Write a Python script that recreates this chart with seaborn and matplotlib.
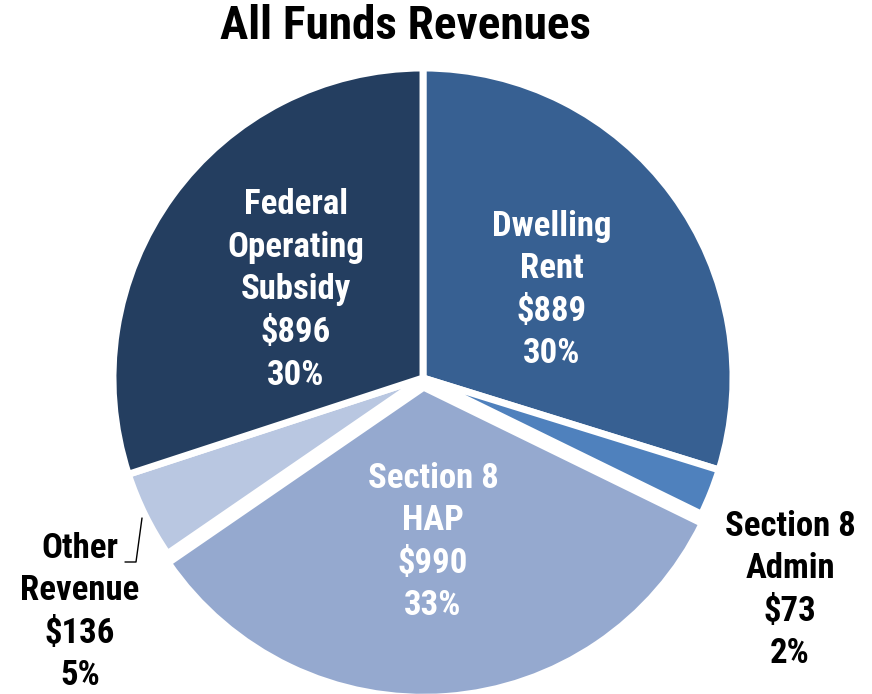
import matplotlib
matplotlib.use("Agg")
import matplotlib.pyplot as plt
import seaborn as sns

# Revenue data ($ in millions)
categories = ["Dwelling\nRent", "Section 8\nAdmin", "Section 8\nHAP", "Other\nRevenue", "Federal\nOperating\nSubsidy"]
values = [889, 73, 990, 136, 896]
colors = ["#376092", "#4F81BD", "#95A9CF", "#B9C7E1", "#243E60"]

sns.set_theme(style="white")
plt.rcParams['font.family'] = ['Roboto Condensed', 'Liberation Sans', 'DejaVu Sans']
plt.rcParams['font.weight'] = 'bold'

W, H = 872, 694
cx, cy, R = 423, 378, 310  # pie centre / radius in pixels

fig = plt.figure(figsize=(W / 100, H / 100), dpi=100)
ax = fig.add_axes([(cx - R) / W, (H - cy - R) / H, 2 * R / W, 2 * R / H])

explode = [0, 0, 0.03, 0, 0]
ax.pie(values, colors=colors, startangle=90, counterclock=False, explode=explode,
       radius=1, wedgeprops=dict(edgecolor="white", linewidth=5))
ax.set_xlim(-1, 1)
ax.set_ylim(-1, 1)
ax.set_aspect("equal")
ax.axis("off")


def px(x, y):
    return (x - cx) / R, (cy - y) / R


total = sum(values)
labels = [f"{c}\n${v:,}\n{round(v / total * 100)}%" for c, v in zip(categories, values)]

# label centres in pixels and text colours
spots = [(552, 290), (790, 590), (433, 542), (80, 612), (296, 290)]
text_colors = ["white", "black", "white", "black", "white"]

for lab, (x, y), tc in zip(labels, spots, text_colors):
    tx, ty = px(x, y)
    ax.text(tx, ty, lab, ha="center", va="center", fontsize=25, color=tc,
            fontweight="bold", linespacing=1.37, clip_on=False)

# leader line for Other Revenue
lx, ly = zip(px(125, 562), px(136, 562), px(142, 518))
ax.plot(lx, ly, color="black", linewidth=1, clip_on=False)

fig.text(405 / W, 1 - 26 / H, "All Funds Revenues", ha="center", va="center",
         fontsize=34, fontweight="bold", color="black")

fig.savefig("out.png", dpi=100)
